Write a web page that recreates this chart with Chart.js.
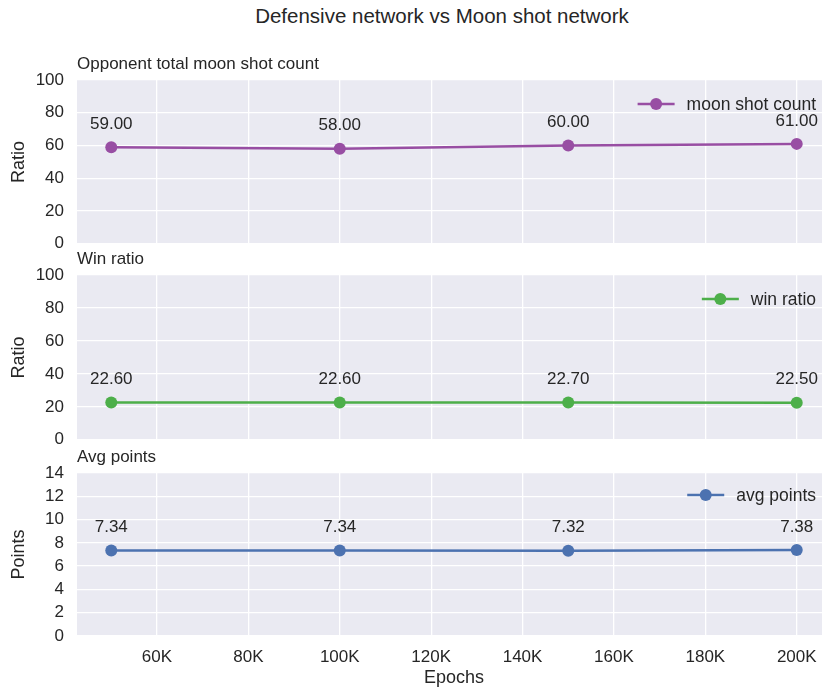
<!DOCTYPE html>
<html><head><meta charset="utf-8">
<script src="https://cdn.jsdelivr.net/npm/chart.js@4.4.0/dist/chart.umd.min.js"></script>
<style>
html,body{margin:0;padding:0;background:#fff;overflow:hidden;width:822px;height:691px;}
.c{position:absolute;left:0;width:840px;}
#title{position:absolute;left:0;top:4px;width:884px;text-align:center;font:20.5px/24px "Liberation Sans",Arial,sans-serif;color:#262626;}
</style></head><body>
<div id="title">Defensive network vs Moon shot network</div>
<div class="c" style="top:40px;height:227px"><canvas id="c1"></canvas></div>
<div class="c" style="top:235px;height:228px"><canvas id="c2"></canvas></div>
<div class="c" style="top:433px;height:258px"><canvas id="c3"></canvas></div>
<script>
const epochs = [50000, 100000, 150000, 200000];
const moonShotCount = [59, 58, 60, 61];
const winRatio = [22.6, 22.6, 22.7, 22.5];
const avgPoints = [7.34, 7.34, 7.32, 7.38];
const xTicks = [60000, 80000, 100000, 120000, 140000, 160000, 180000, 200000];

const FONT = '"Liberation Sans", Arial, sans-serif';
const TXT = '#262626';

const deco = {
  id: 'deco',
  beforeDraw(chart) {
    const {ctx, chartArea: a} = chart;
    ctx.save();
    ctx.fillStyle = '#EAEAF2';
    ctx.fillRect(a.left, a.top, a.right - a.left, a.bottom - a.top);
    ctx.restore();
  },
  afterDatasetsDraw(chart, args, opts) {
    const {ctx, chartArea: a} = chart;
    ctx.save();
    ctx.fillStyle = TXT;
    ctx.font = '17px ' + FONT;
    ctx.textAlign = 'left';
    ctx.textBaseline = 'alphabetic';
    ctx.fillText(opts.title, a.left, a.top - 11);
    const ds = chart.data.datasets[0];
    const meta = chart.getDatasetMeta(0);
    ctx.font = '17px ' + FONT;
    ctx.textAlign = 'center';
    ctx.textBaseline = 'middle';
    meta.data.forEach((pt, i) => {
      ctx.fillText(ds.data[i].y.toFixed(2), pt.x, pt.y - 23);
    });
    const ly = a.top + opts.legendDy;
    const tx = a.right - 15;
    ctx.font = '17.5px ' + FONT;
    ctx.textAlign = 'right';
    const tw = ctx.measureText(ds.label).width;
    const lx2 = tx - tw - 12;
    const lx1 = lx2 - 37;
    ctx.strokeStyle = ds.borderColor;
    ctx.lineWidth = 2.5;
    ctx.beginPath(); ctx.moveTo(lx1, ly); ctx.lineTo(lx2, ly); ctx.stroke();
    ctx.fillStyle = ds.borderColor;
    ctx.beginPath(); ctx.arc((lx1 + lx2) / 2, ly, 6, 0, Math.PI * 2); ctx.fill();
    ctx.fillStyle = TXT;
    ctx.fillText(ds.label, tx, ly + 1);
    ctx.restore();
  }
};

function makeChart(id, label, values, color, yMax, yStep, yTitle, title, showX, legendDy) {
  return new Chart(document.getElementById(id), {
    type: 'line',
    data: {
      datasets: [{
        label: label,
        data: epochs.map((e, i) => ({x: e, y: values[i]})),
        borderColor: color,
        backgroundColor: color,
        borderWidth: 2.5,
        pointRadius: 6,
        pointHoverRadius: 6,
        pointBorderWidth: 0,
        tension: 0
      }]
    },
    options: {
      responsive: true,
      maintainAspectRatio: false,
      animation: false,
      layout: {padding: {top: 40, right: 9, left: 0, bottom: 0}},
      plugins: {
        legend: {display: false},
        tooltip: {enabled: false},
        deco: {title: title, legendDy: legendDy}
      },
      scales: {
        x: {
          type: 'linear',
          min: 42500,
          max: 207500,
          afterBuildTicks(s) { s.ticks = xTicks.map(v => ({value: v})); },
          afterFit(s) { s.height = showX ? 55 : 0; },
          grid: {color: '#ffffff', lineWidth: 1.3, drawTicks: false},
          border: {display: false},
          ticks: {
            display: showX,
            padding: 11,
            color: TXT,
            font: {family: FONT, size: 17},
            callback: v => (v / 1000) + 'K'
          },
          title: {
            display: showX,
            text: 'Epochs',
            color: TXT,
            font: {family: FONT, size: 18},
            padding: {top: 0, bottom: 2}
          }
        },
        y: {
          min: 0,
          max: yMax,
          afterFit(s) { s.width = 77; },
          grid: {color: '#ffffff', lineWidth: 1.3, drawTicks: false},
          border: {display: false},
          ticks: {
            stepSize: yStep,
            autoSkip: false,
            padding: 13,
            color: TXT,
            font: {family: FONT, size: 17}
          },
          title: {
            display: true,
            text: yTitle,
            color: TXT,
            font: {family: FONT, size: 18},
            padding: {top: 8, bottom: 4}
          }
        }
      }
    },
    plugins: [deco]
  });
}

makeChart('c1', 'moon shot count', moonShotCount, '#984EA3', 100, 20, 'Ratio', 'Opponent total moon shot count', false, 24);
makeChart('c2', 'win ratio', winRatio, '#4DAF4A', 100, 20, 'Ratio', 'Win ratio', false, 24);
makeChart('c3', 'avg points', avgPoints, '#4C72B0', 14, 2, 'Points', 'Avg points', true, 22);
</script>
</body></html>
